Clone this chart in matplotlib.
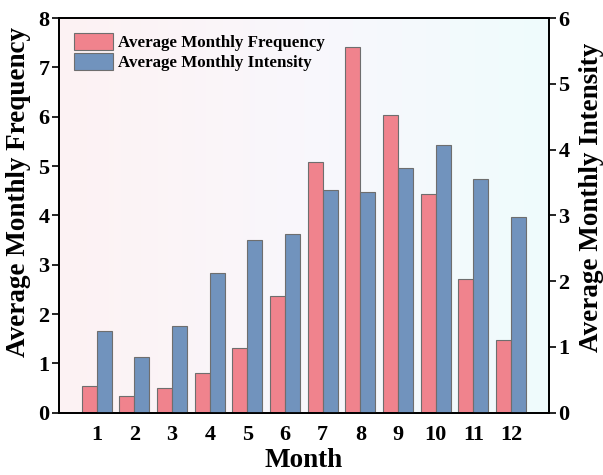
import numpy as np
import matplotlib
matplotlib.use('Agg')
import matplotlib.pyplot as plt
from matplotlib.colors import LinearSegmentedColormap

months = [1, 2, 3, 4, 5, 6, 7, 8, 9, 10, 11, 12]
frequency = [0.55, 0.35, 0.51, 0.80, 1.31, 2.36, 5.09, 7.42, 6.03, 4.44, 2.72, 1.47]
intensity = [1.24, 0.85, 1.32, 2.12, 2.63, 2.72, 3.39, 3.36, 3.72, 4.07, 3.56, 2.98]

RED, BLUE, EDGE = '#f0838d', '#7193bd', '#6e6e6e'

plt.rcParams['font.family'] = ['Liberation Serif', 'DejaVu Serif']
plt.rcParams['font.weight'] = 'bold'

fig = plt.figure(figsize=(6.03, 4.75), dpi=100)
ax = fig.add_axes([0.098, 0.131, 0.812, 0.831])
ax2 = ax.twinx()

# soft pink -> cyan background
bg = LinearSegmentedColormap.from_list('bg', ['#fdf2f3', '#f9f7fc', '#effcfd'])
ax.imshow(np.linspace(0, 1, 256)[None, :], cmap=bg, extent=[0, 1, 0, 1],
          transform=ax.transAxes, aspect='auto', zorder=0)

x = np.array(months)
w = 0.4
b1 = ax.bar(x - w / 2, frequency, w, color=RED, edgecolor=EDGE, linewidth=0.8,
            zorder=2, label='Average Monthly Frequency')
b2 = ax2.bar(x + w / 2, intensity, w, color=BLUE, edgecolor=EDGE, linewidth=0.8,
             zorder=2, label='Average Monthly Intensity')

ax.set_xlim(0, 13)
ax.set_ylim(0, 8)
ax2.set_ylim(0, 6)
ax.set_xticks(x)
ax.set_xticklabels([str(m) for m in months])
ax.set_yticks(range(0, 9))
ax2.set_yticks(range(0, 7))

ax.tick_params(axis='x', direction='in', length=4, width=1.5, labelsize=16, pad=9)
ax.tick_params(axis='y', direction='out', length=5, width=1.2, labelsize=16, pad=2)
ax2.tick_params(axis='y', direction='out', length=5, width=1.2, labelsize=16, pad=2)
for a in (ax, ax2):
    for s in a.spines.values():
        s.set_linewidth(1.3)

ax.set_xlabel('Month', fontsize=19.5, fontweight='bold', labelpad=2)
ax.set_ylabel('Average Monthly Frequency', fontsize=19.5, fontweight='bold')
ax2.set_ylabel('Average Monthly Intensity', fontsize=19.5, fontweight='bold')
ax.yaxis.set_label_coords(-0.058, 0.56)
ax2.yaxis.set_label_coords(1.062, 0.546)

ax2.legend([b1, b2], ['Average Monthly Frequency', 'Average Monthly Intensity'],
           loc='upper left', frameon=False, fontsize=12.2, handlelength=2.3,
           handleheight=1.15, handletextpad=0.3, labelspacing=0.1,
           borderaxespad=0.0, borderpad=0.0, bbox_to_anchor=(0.03, 0.962))

fig.savefig('out.png', dpi=100)
